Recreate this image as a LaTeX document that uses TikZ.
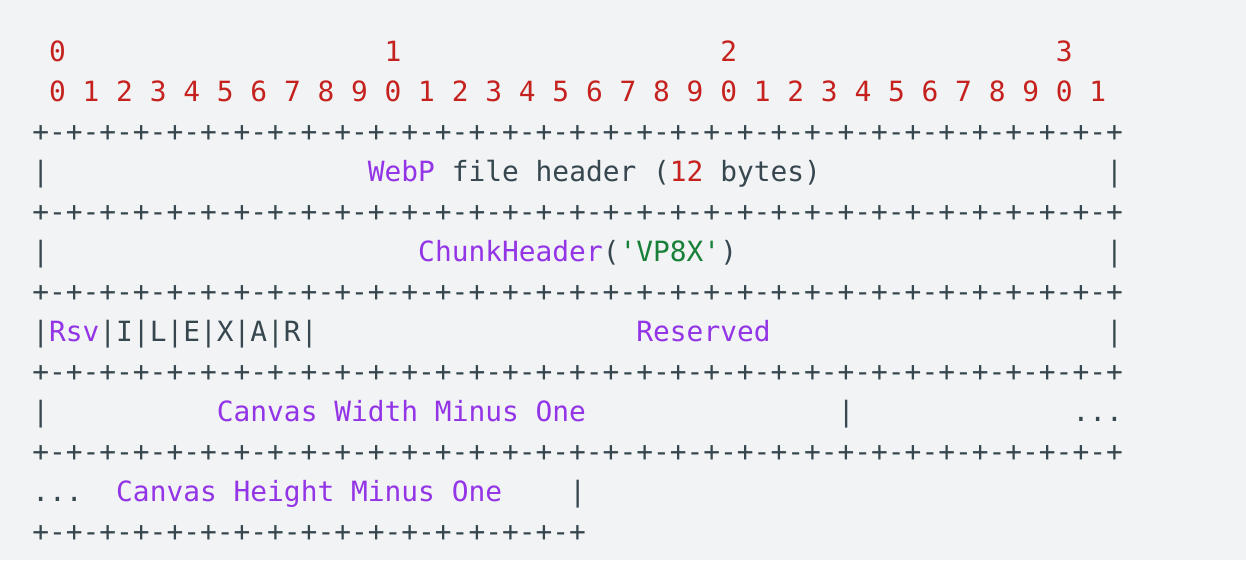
\documentclass[tikz,border=0pt]{standalone}
\usepackage{fontspec}
\setmonofont{DejaVu Sans Mono}
\definecolor{codebg}{HTML}{F1F3F4}
\definecolor{codegray}{HTML}{37474F}
\definecolor{codered}{HTML}{C5221F}
\definecolor{codepurple}{HTML}{9334E6}
\definecolor{codegreen}{HTML}{188038}
\newcommand{\codefont}{\ttfamily\fontsize{27.87}{40}\selectfont}
\tikzset{
  txt/.style={anchor=base west,inner sep=0,outer sep=0,font=\codefont,text=codegray},
  num/.style={txt,text=codered},
  fld/.style={txt,text=codepurple},
  lit/.style={txt,text=codegreen}
}
\begin{document}
\begin{tikzpicture}[x=1pt,y=-1pt]

\def\cw{16.78} %character width
\def\lh{40} %line height
\def\xo{32.3} %left edge of column 0
\def\yo{61.7} %baseline of line 0
\def\border{+-+-+-+-+-+-+-+-+-+-+-+-+-+-+-+-+-+-+-+-+-+-+-+-+-+-+-+-+-+-+-+-+}
\def\shortborder{+-+-+-+-+-+-+-+-+-+-+-+-+-+-+-+-+}

%background
\fill[codebg] (0,0) rectangle (1246,560);

%bit numbers
\foreach \t in {0,1,2,3}
  \node[num] (tens\t) at (\xo+\cw+20*\t*\cw,\yo) {\t};
\foreach \i in {0,...,31}{
  \pgfmathtruncatemacro\d{mod(\i,10)}
  \node[num] (bit\i) at (\xo+\cw+2*\i*\cw,\yo+\lh) {\d};
}

%borders
\foreach \r in {2,4,6,8,10}
  \node[txt] (border\r) at (\xo,\yo+\r*\lh) {\border};
\node[txt] (border12) at (\xo,\yo+12*\lh) {\shortborder};

%file header
\node[txt] (hl) at (\xo,\yo+3*\lh) {|};
\node[fld] (webp) at (\xo+20*\cw,\yo+3*\lh) {WebP};
\node[txt] (fh) at (\xo+24*\cw,\yo+3*\lh) {\ file header (};
\node[num] (twelve) at (\xo+38*\cw,\yo+3*\lh) {12};
\node[txt] (bytes) at (\xo+40*\cw,\yo+3*\lh) {\ bytes)};
\node[txt] (hr) at (\xo+64*\cw,\yo+3*\lh) {|};

%chunk header
\node[txt] (cl) at (\xo,\yo+5*\lh) {|};
\node[fld] (chunk) at (\xo+23*\cw,\yo+5*\lh) {ChunkHeader};
\node[txt] (po) at (\xo+34*\cw,\yo+5*\lh) {(};
\node[lit] (vpx) at (\xo+35*\cw,\yo+5*\lh) {'VP8X'};
\node[txt] (pc) at (\xo+41*\cw,\yo+5*\lh) {)};
\node[txt] (cr) at (\xo+64*\cw,\yo+5*\lh) {|};

%flags
\node[txt] (fl) at (\xo,\yo+7*\lh) {|};
\node[fld] (rsv) at (\xo+\cw,\yo+7*\lh) {Rsv};
\node[txt] (flags) at (\xo+4*\cw,\yo+7*\lh) {|I|L|E|X|A|R|};
\node[fld] (reserved) at (\xo+36*\cw,\yo+7*\lh) {Reserved};
\node[txt] (fr) at (\xo+64*\cw,\yo+7*\lh) {|};

%canvas width
\node[txt] (wl) at (\xo,\yo+9*\lh) {|};
\node[fld] (width) at (\xo+11*\cw,\yo+9*\lh) {Canvas Width Minus One};
\node[txt] (wm) at (\xo+48*\cw,\yo+9*\lh) {|};
\node[txt] (wdots) at (\xo+62*\cw,\yo+9*\lh) {...};

%canvas height
\node[txt] (hdots) at (\xo,\yo+11*\lh) {...};
\node[fld] (height) at (\xo+5*\cw,\yo+11*\lh) {Canvas Height Minus One};
\node[txt] (hm) at (\xo+32*\cw,\yo+11*\lh) {|};

\end{tikzpicture}
\end{document}
